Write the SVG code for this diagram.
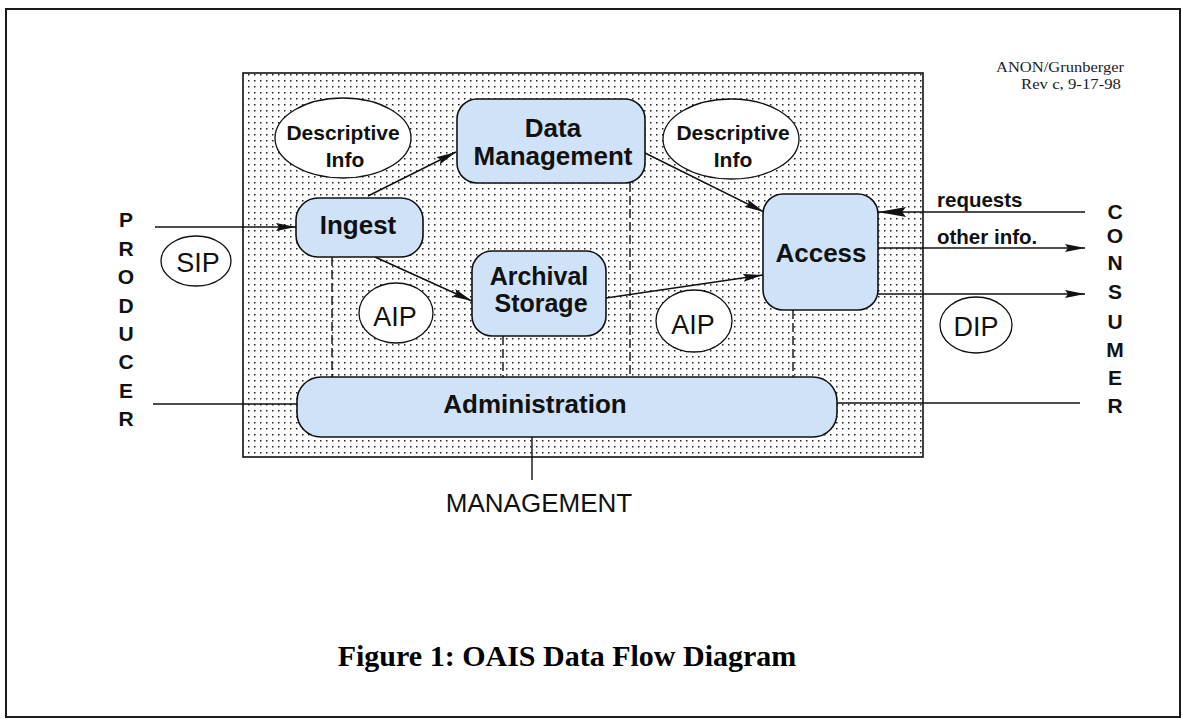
<svg xmlns="http://www.w3.org/2000/svg" width="1182" height="719" viewBox="0 0 1182 719">
  <style>
    .frame { fill: #ffffff; stroke: #1a1a1a; stroke-width: 2; }
    .area { fill: url(#dots); stroke: #111; stroke-width: 1.6; }
    .func { fill: #cfe2f8; stroke: #111; stroke-width: 1.6; }
    .pkg { fill: #ffffff; stroke: #111; stroke-width: 1.3; }
    .flow { fill: none; stroke: #111; stroke-width: 1.4; }
    .link { fill: none; stroke: #111; stroke-width: 1.4; stroke-dasharray: 9 4; }
    .lbl { font-family: "Liberation Sans", Arial, sans-serif; font-weight: bold; font-size: 26px; fill: #111; text-anchor: middle; }
    .lbl2 { font-family: "Liberation Sans", Arial, sans-serif; font-weight: bold; font-size: 25px; fill: #111; text-anchor: middle; }
    .info { font-family: "Liberation Sans", Arial, sans-serif; font-weight: bold; font-size: 21px; fill: #111; text-anchor: middle; }
    .pk { font-family: "Liberation Sans", Arial, sans-serif; font-size: 27px; fill: #111; text-anchor: middle; }
    .side { font-family: "Liberation Sans", Arial, sans-serif; font-weight: bold; font-size: 21px; fill: #111; text-anchor: middle; }
    .msg { font-family: "Liberation Sans", Arial, sans-serif; font-weight: bold; font-size: 20.5px; fill: #111; }
    .mgmt { font-family: "Liberation Sans", Arial, sans-serif; font-size: 26px; fill: #111; text-anchor: middle; }
    .note { font-family: "Liberation Serif", "Times New Roman", serif; font-size: 15px; fill: #222; text-anchor: end; }
    .caption { font-family: "Liberation Serif", "Times New Roman", serif; font-weight: bold; font-size: 30px; fill: #000; text-anchor: middle; }
  </style>
  <defs>
    <pattern id="dots" width="6" height="6" patternUnits="userSpaceOnUse">
      <rect width="6" height="6" fill="#ffffff"/>
      <rect x="2" y="2" width="1.5" height="1.5" fill="#222"/>
    </pattern>
    <marker id="arrow" viewBox="0 0 20 10" refX="20" refY="5" markerWidth="20" markerHeight="10" markerUnits="userSpaceOnUse" orient="auto">
      <path d="M0,1 L20,5 L0,9 L3,5 Z" fill="#111"/>
    </marker>
    <marker id="arrowBig" viewBox="0 0 28 12" refX="28" refY="6" markerWidth="28" markerHeight="12" markerUnits="userSpaceOnUse" orient="auto">
      <path d="M0,1 L28,6 L0,11 L4,6 Z" fill="#111"/>
    </marker>
  </defs>

  <!-- page frame -->
  <rect class="frame" x="6" y="9" width="1174" height="708"/>

  <!-- archive boundary (stippled) -->
  <rect class="area" x="243" y="73" width="680" height="384"/>

  <!-- revision note -->
  <text class="note" x="1124" y="72" textLength="128" lengthAdjust="spacingAndGlyphs">ANON/Grunberger</text>
  <text class="note" x="1121" y="89" textLength="100" lengthAdjust="spacingAndGlyphs">Rev c, 9-17-98</text>

  <!-- connectors -->
  <g id="connectors">
    <!-- administration links (dashed) -->
    <line class="link" x1="332" y1="257" x2="332" y2="377"/>
    <line class="link" x1="503" y1="336" x2="503" y2="377"/>
    <line class="link" x1="630" y1="183" x2="630" y2="377"/>
    <line class="link" x1="793" y1="310" x2="793" y2="377"/>
    <!-- internal flows -->
    <line class="flow" x1="368" y1="196" x2="456" y2="152" marker-end="url(#arrow)"/>
    <line class="flow" x1="375" y1="257" x2="472" y2="301" marker-end="url(#arrow)"/>
    <line class="flow" x1="645" y1="153" x2="764" y2="212" marker-end="url(#arrow)"/>
    <line class="flow" x1="606" y1="298" x2="763" y2="275" marker-end="url(#arrow)"/>
    <!-- producer side -->
    <line class="flow" x1="155" y1="227" x2="296" y2="227" marker-end="url(#arrow)"/>
    <line class="flow" x1="153" y1="404" x2="297" y2="404"/>
    <!-- consumer side -->
    <line class="flow" x1="1085" y1="212" x2="878" y2="212" marker-end="url(#arrowBig)"/>
    <line class="flow" x1="878" y1="248" x2="1085" y2="248" marker-end="url(#arrow)"/>
    <line class="flow" x1="878" y1="294" x2="1085" y2="294" marker-end="url(#arrow)"/>
    <line class="flow" x1="837" y1="403" x2="1080" y2="403"/>
    <!-- management -->
    <line class="flow" x1="532" y1="437" x2="532" y2="480"/>
  </g>

  <!-- information packages and descriptive info -->
  <g id="desc-info-left">
    <ellipse class="pkg" cx="343" cy="138" rx="68" ry="40"/>
    <text class="info" x="343" y="140">Descriptive</text>
    <text class="info" x="345" y="167">Info</text>
  </g>
  <g id="desc-info-right">
    <ellipse class="pkg" cx="731" cy="139" rx="68" ry="40"/>
    <text class="info" x="733" y="140">Descriptive</text>
    <text class="info" x="733" y="167">Info</text>
  </g>
  <g id="sip">
    <ellipse class="pkg" cx="196" cy="261" rx="35" ry="25"/>
    <text class="pk" x="198" y="272">SIP</text>
  </g>
  <g id="aip-left">
    <ellipse class="pkg" cx="396" cy="313" rx="37" ry="30"/>
    <text class="pk" x="395" y="326">AIP</text>
  </g>
  <g id="aip-right">
    <ellipse class="pkg" cx="694" cy="321" rx="38" ry="31"/>
    <text class="pk" x="693" y="334">AIP</text>
  </g>
  <g id="dip">
    <ellipse class="pkg" cx="976" cy="325" rx="36" ry="28"/>
    <text class="pk" x="976" y="336">DIP</text>
  </g>

  <!-- functional entities -->
  <g id="ingest">
    <rect class="func" x="296" y="198" width="127" height="59" rx="22" ry="22"/>
    <text class="lbl" x="358" y="234">Ingest</text>
  </g>
  <g id="data-management">
    <rect class="func" x="457" y="99" width="188" height="84" rx="20" ry="20"/>
    <text class="lbl" x="553" y="137">Data</text>
    <text class="lbl" x="553" y="165">Management</text>
  </g>
  <g id="archival-storage">
    <rect class="func" x="472" y="251" width="134" height="85" rx="20" ry="20"/>
    <text class="lbl2" x="539" y="285">Archival</text>
    <text class="lbl2" x="541" y="312">Storage</text>
  </g>
  <g id="access">
    <rect class="func" x="763" y="194" width="115" height="116" rx="20" ry="20"/>
    <text class="lbl" x="821" y="262">Access</text>
  </g>
  <g id="administration">
    <rect class="func" x="297" y="377" width="540" height="60" rx="24" ry="24"/>
    <text class="lbl" x="535" y="413">Administration</text>
  </g>

  <!-- external parties -->
  <g id="producer">
    <text class="side" x="126" y="227">P</text>
    <text class="side" x="126" y="256">R</text>
    <text class="side" x="126" y="284">O</text>
    <text class="side" x="126" y="313">D</text>
    <text class="side" x="126" y="341">U</text>
    <text class="side" x="126" y="369">C</text>
    <text class="side" x="126" y="398">E</text>
    <text class="side" x="126" y="426">R</text>
  </g>
  <g id="consumer">
    <text class="side" x="1115" y="219">C</text>
    <text class="side" x="1115" y="243">O</text>
    <text class="side" x="1115" y="270">N</text>
    <text class="side" x="1115" y="299">S</text>
    <text class="side" x="1115" y="329">U</text>
    <text class="side" x="1115" y="357">M</text>
    <text class="side" x="1115" y="385">E</text>
    <text class="side" x="1115" y="413">R</text>
  </g>
  <g id="management">
    <text class="mgmt" x="539" y="512">MANAGEMENT</text>
  </g>

  <!-- flow labels -->
  <text class="msg" x="937" y="207">requests</text>
  <text class="msg" x="937" y="244">other info.</text>

  <!-- caption -->
  <text class="caption" x="567" y="666">Figure 1: OAIS Data Flow Diagram</text>
</svg>
